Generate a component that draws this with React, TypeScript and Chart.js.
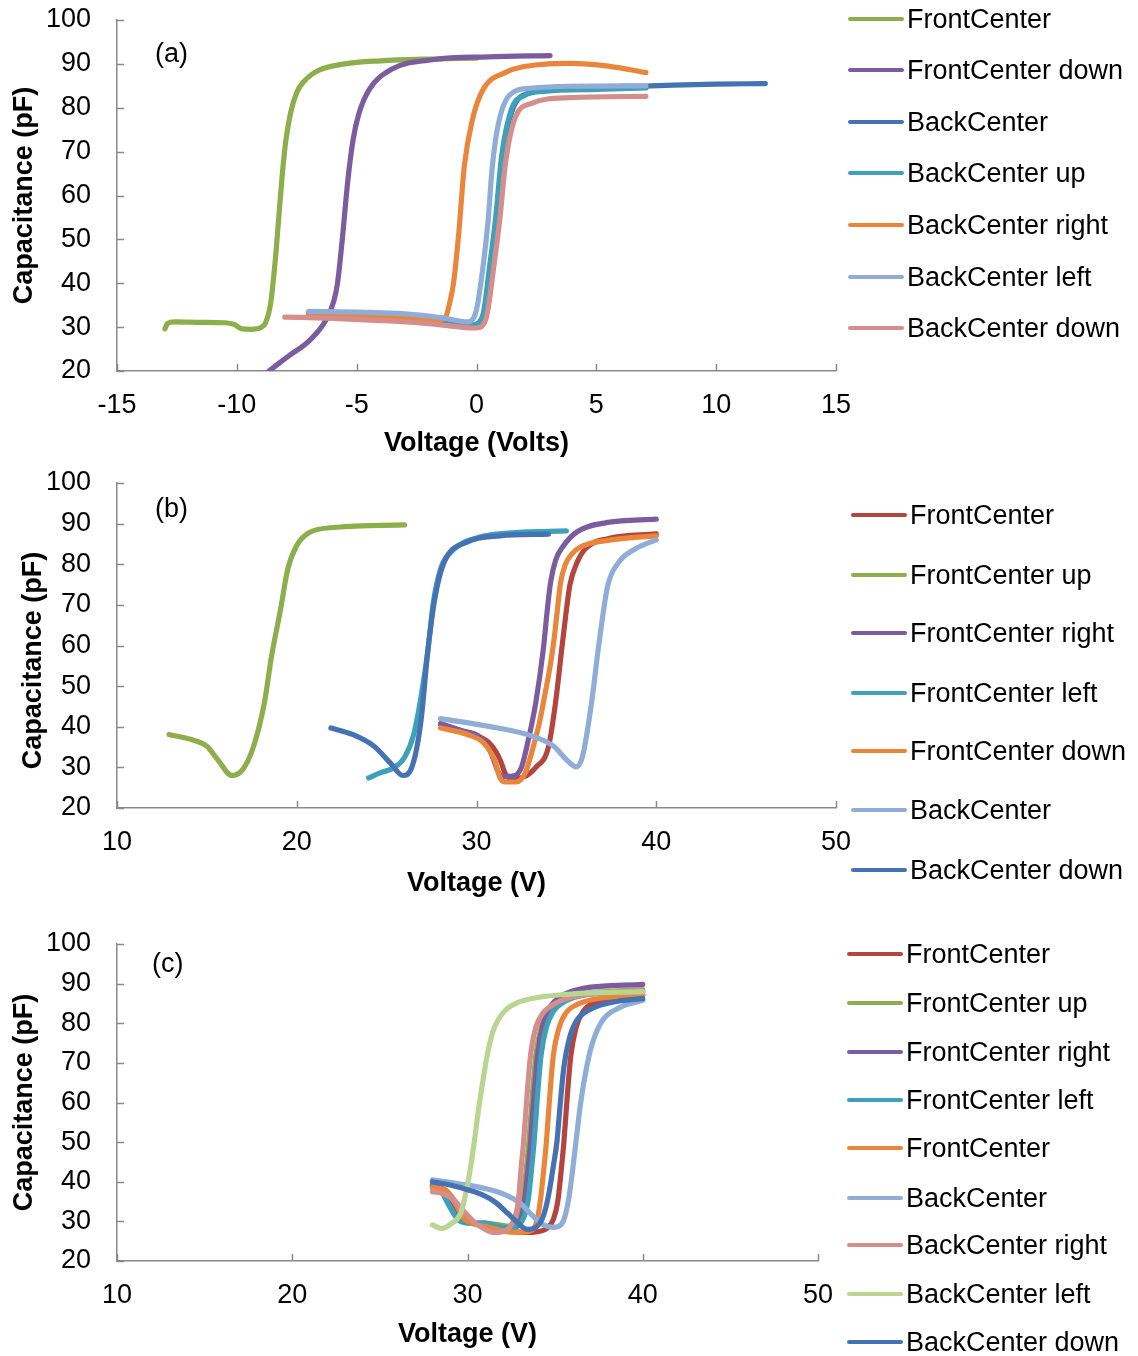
import React, { useEffect, useRef } from 'react';
import { Chart, registerables } from 'chart.js';

Chart.register(...registerables);

type Pt = [number, number];

const FONT = '"Liberation Sans", Arial, Helvetica, sans-serif';
const AXIS_COLOR = '#8a8a8a';

const COL_RED = '#B3453F';
const COL_GREEN = '#8CAF4B';
const COL_PURPLE = '#7A5C9F';
const COL_TEAL = '#3FA0BA';
const COL_ORANGE = '#EA863B';
const COL_LIGHTBLUE = '#8FADD7';
const COL_PINK = '#D48E8C';
const COL_LIGHTGREEN = '#BAD492';
const COL_BLUE = '#4472B3';

const Y_TICKS = [20, 30, 40, 50, 60, 70, 80, 90, 100];

// ---------- Panel (a) ----------
const A_X_TICKS = [-15, -10, -5, 0, 5, 10, 15];
const A_NAMES = ['FrontCenter', 'FrontCenter down', 'BackCenter', 'BackCenter up', 'BackCenter right', 'BackCenter left', 'BackCenter down'];
const A_COLORS = [COL_GREEN, COL_PURPLE, COL_BLUE, COL_TEAL, COL_ORANGE, COL_LIGHTBLUE, COL_PINK];
const A_FRONT_CENTER: Pt[] = [[-13.0, 29.6], [-12.9, 30.8], [-12.6, 31.2], [-11.5, 31.1], [-10.5, 31.0], [-10.1, 30.6], [-9.8, 29.6], [-9.4, 29.5], [-9.0, 29.9], [-8.8, 31], [-8.6, 35], [-8.4, 45], [-8.25, 55], [-8.1, 65], [-7.95, 72.7], [-7.75, 79], [-7.5, 83.5], [-7.2, 86], [-6.6, 88.5], [-5.5, 90], [-4, 90.7], [-2, 91.1], [0, 91.3]];
const A_FRONT_CENTER_DOWN: Pt[] = [[-8.66, 20], [-7.87, 23.3], [-6.96, 27], [-6.28, 31.6], [-5.95, 36], [-5.8, 40], [-5.6, 50], [-5.38, 62.8], [-5.15, 72.7], [-4.9, 78.8], [-4.47, 84.2], [-3.57, 88.7], [-1.76, 91], [0.5, 91.6], [3.07, 91.9]];
const A_BACK_CENTER: Pt[] = [[-7, 33], [-5, 32.8], [-3, 32.3], [-1.5, 31.6], [-0.5, 30.8], [0.05, 30.3], [0.3, 33], [0.55, 42], [0.84, 55], [1.1, 70], [1.5, 79.5], [2.1, 83.2], [3.9, 84.5], [7.3, 85], [10, 85.4], [12.05, 85.5]];
const A_BACK_CENTER_UP: Pt[] = [[-7, 33.2], [-5, 33], [-3, 32.5], [-1.5, 31.8], [-0.7, 31.1], [-0.2, 30.5], [0.25, 32.5], [0.55, 44], [0.8, 55], [1.05, 69], [1.45, 79.5], [2, 82.8], [2.9, 83.8], [5, 84.2], [7.07, 84.5]];
const A_BACK_CENTER_RIGHT: Pt[] = [[-7, 32.8], [-5, 32.6], [-3, 32.2], [-1.6, 31.7], [-1.3, 32.2], [-1.1, 36], [-0.96, 40], [-0.74, 51.4], [-0.51, 66.6], [-0.17, 77.3], [0.28, 84.2], [1.19, 88], [2.77, 89.9], [3.9, 90.1], [5.49, 89.5], [7.07, 88]];
const A_BACK_CENTER_LEFT: Pt[] = [[-7, 33.6], [-5, 33.4], [-3, 33.0], [-1.5, 32.2], [-0.36, 31.2], [0.0, 34], [0.3, 45], [0.48, 54], [0.65, 66], [0.9, 76], [1.4, 83], [2.32, 84.5], [3.9, 84.9], [7.07, 85]];
const A_BACK_CENTER_DOWN: Pt[] = [[-8, 32.3], [-6, 32.0], [-4, 31.5], [-2, 30.8], [-0.8, 30.1], [0.0, 29.8], [0.4, 32], [0.75, 45], [0.98, 55], [1.2, 67], [1.6, 77.5], [2.3, 81], [3.9, 82.3], [7.07, 82.6]];

// ---------- Panel (b) ----------
const BC_X_TICKS = [10, 20, 30, 40, 50];
const B_NAMES = ['FrontCenter', 'FrontCenter up', 'FrontCenter right', 'FrontCenter left', 'FrontCenter down', 'BackCenter', 'BackCenter down'];
const B_COLORS = [COL_RED, COL_GREEN, COL_PURPLE, COL_TEAL, COL_ORANGE, COL_LIGHTBLUE, COL_BLUE];
const B_FRONT_CENTER: Pt[] = [[28.0, 40.6], [29.2, 38.9], [30.1, 37.7], [30.8, 35.6], [31.3, 32], [31.6, 28.5], [31.9, 27.3], [32.6, 27.6], [33.3, 30], [34.0, 35], [34.4, 46], [34.74, 59], [34.98, 68], [35.2, 75], [35.6, 80.5], [36.1, 84], [37.3, 86.3], [40.0, 87.5]];
const B_FRONT_CENTER_UP: Pt[] = [[12.9, 38.1], [14.1, 36.9], [15.0, 35.2], [15.6, 31.9], [16.4, 28], [17.0, 29.5], [17.6, 35.2], [18.2, 45.9], [18.6, 57.4], [19.1, 68.9], [19.5, 78.8], [20.0, 84.6], [20.7, 87.8], [22.2, 89.1], [26.0, 89.7]];
const B_FRONT_CENTER_RIGHT: Pt[] = [[28.0, 40.8], [29.2, 39], [30.1, 37.7], [30.8, 33.6], [31.2, 29], [31.5, 27.7], [32.1, 27.9], [32.5, 30], [32.8, 35.1], [33.3, 46], [33.72, 59.2], [33.92, 68], [34.12, 75.5], [34.4, 81], [34.8, 84.3], [35.6, 88], [37.3, 90.3], [40.0, 91.1]];
const B_FRONT_CENTER_LEFT: Pt[] = [[24.0, 27.4], [24.6, 28.6], [25.4, 29.9], [26.0, 32.5], [26.5, 38], [26.9, 47], [27.3, 59], [27.6, 70.6], [28.0, 78.8], [28.7, 83.5], [30.1, 86.6], [32.2, 87.8], [35.0, 88.2]];
const B_FRONT_CENTER_DOWN: Pt[] = [[28.0, 39.7], [29.5, 38.1], [30.4, 36.0], [31.0, 31.9], [31.3, 27.5], [31.6, 26.4], [32.2, 26.4], [32.7, 28.5], [33.16, 35.1], [33.5, 41], [33.85, 49], [34.1, 55], [34.3, 61], [34.48, 68], [34.68, 75.5], [34.95, 80], [35.3, 82.5], [35.8, 84.3], [37.5, 86], [40.0, 87]];
const B_BACK_CENTER: Pt[] = [[28.0, 42], [30.7, 40.1], [33.1, 37.7], [34.3, 35.2], [35.0, 31.9], [35.55, 30.1], [35.9, 32.7], [36.4, 45.9], [36.8, 60], [37.3, 74.7], [37.9, 80.4], [38.8, 83.7], [40.0, 86]];
const B_BACK_CENTER_DOWN: Pt[] = [[21.9, 39.7], [23.1, 38.1], [24.3, 35.2], [25.2, 31.1], [25.9, 28], [26.4, 30], [26.9, 41], [27.3, 59], [27.7, 72], [28.2, 80.5], [29.5, 85.5], [31.3, 87], [34.0, 87.4]];

// ---------- Panel (c) ----------
const C_NAMES = ['FrontCenter', 'FrontCenter up', 'FrontCenter right', 'FrontCenter left', 'FrontCenter', 'BackCenter', 'BackCenter right', 'BackCenter left', 'BackCenter down'];
const C_COLORS = [COL_RED, COL_GREEN, COL_PURPLE, COL_TEAL, COL_ORANGE, COL_LIGHTBLUE, COL_PINK, COL_LIGHTGREEN, COL_BLUE];
const C_FRONT_CENTER: Pt[] = [[28, 39], [28.6, 38], [29.2, 35], [29.7, 31], [30.3, 29.5], [31, 29.2], [31.8, 28.3], [32.5, 27.5], [33.3, 27.2], [34, 27.4], [34.6, 28.5], [34.9, 30.5], [35.15, 35], [35.35, 43], [35.5, 50], [35.7, 62], [35.9, 72], [36.2, 79], [36.6, 83], [37.3, 85.3], [38.5, 86.5], [40, 87.1]];
const C_FRONT_CENTER_UP: Pt[] = [[28, 38.5], [28.7, 38], [29.3, 35], [29.8, 31], [30.3, 29.8], [31, 29.5], [31.7, 29.2], [32.4, 28.8], [32.9, 30], [33.15, 35], [33.35, 43], [33.5, 50], [33.7, 62], [33.9, 72], [34.2, 79], [34.6, 83], [35.3, 85.8], [36.5, 87.3], [40, 88.5]];
const C_FRONT_CENTER_RIGHT: Pt[] = [[28, 39.2], [28.6, 38.2], [29.2, 34.5], [29.7, 30.5], [30.2, 29.5], [31, 29.3], [31.8, 28.5], [32.5, 28.2], [33, 30], [33.25, 35], [33.45, 43], [33.6, 50], [33.8, 62], [34, 72], [34.3, 79.5], [34.7, 84], [35.4, 87], [36.6, 88.8], [40, 89.8]];
const C_FRONT_CENTER_LEFT: Pt[] = [[28, 38.8], [28.5, 37.5], [29, 33.5], [29.5, 30.3], [30.2, 29.5], [31, 29.6], [31.7, 28.8], [32.4, 28.3], [33.1, 30], [33.45, 35], [33.65, 43], [33.8, 50], [34, 62], [34.2, 72], [34.5, 79], [34.9, 83], [35.6, 85.6], [36.8, 87.2], [40, 88]];
const C_FRONT_CENTER_2: Pt[] = [[28, 38.5], [28.7, 38], [29.3, 34.5], [29.8, 30.8], [30.4, 29.3], [31.2, 28.6], [32, 27.6], [32.8, 27.2], [33.6, 27.6], [33.95, 30], [34.15, 35], [34.35, 43], [34.5, 50], [34.7, 62], [34.9, 72], [35.2, 78.5], [35.6, 82.5], [36.4, 85], [37.6, 86.3], [40, 87.2]];
const C_BACK_CENTER: Pt[] = [[28, 40.5], [29.5, 39.5], [31, 38.3], [32, 37], [33, 34.6], [33.7, 31.5], [34.3, 29.2], [34.9, 28.5], [35.4, 29.5], [35.75, 35], [36, 43], [36.2, 50.5], [36.4, 58], [36.6, 64], [37, 73], [37.6, 80], [38.6, 83.8], [40, 85.8]];
const C_BACK_CENTER_RIGHT: Pt[] = [[28, 37.5], [28.6, 37], [29.2, 35.5], [29.8, 32.5], [30.4, 29.8], [31, 28], [31.5, 27.2], [32, 27.4], [32.4, 28.5], [32.7, 31], [32.9, 35], [33.05, 43], [33.2, 50], [33.4, 62], [33.6, 72], [33.9, 79], [34.3, 82.5], [35, 85], [36.2, 86.8], [40, 88.3]];
const C_BACK_CENTER_LEFT: Pt[] = [[28, 29.1], [28.5, 28.2], [29.1, 29.5], [29.6, 32], [29.9, 37], [30.15, 43], [30.4, 50.5], [30.65, 58.9], [30.9, 66], [31.15, 72.5], [31.5, 78.5], [32.1, 83], [32.9, 85.3], [34, 86.5], [36, 87.4], [40, 88]];
const C_BACK_CENTER_DOWN: Pt[] = [[28, 40], [29, 39.2], [30, 38], [30.8, 36.8], [31.6, 34.8], [32.3, 32], [32.9, 29.5], [33.4, 28], [33.9, 28.5], [34.3, 31], [34.6, 36], [34.9, 44], [35.1, 50], [35.3, 60], [35.5, 69], [35.8, 76], [36.2, 80.5], [37, 83.5], [38.5, 85.5], [40, 86.2]];

interface PanelCfg {
  label: string;
  top: number;
  height: number;
  plotTop: number;
  plotBottom: number;
  plotRight: number;
  xMin: number;
  xMax: number;
  xTicks: number[];
  xTitle: string;
  xTitlePad: number;
  yTitle: string;
  yTitlePad: number;
  names: string[];
  colors: string[];
  data: Pt[][];
  legendX: number;
  legendY: number[];
  labelLeft: number;
  labelTop: number;
}

const PANELS: PanelCfg[] = [
  {
    label: '(a)', top: 0, height: 465, plotTop: 20, plotBottom: 371, plotRight: 836,
    xMin: -15, xMax: 15, xTicks: A_X_TICKS, xTitle: 'Voltage (Volts)', xTitlePad: 5, yTitle: 'Capacitance (pF)', yTitlePad: 8,
    names: A_NAMES, colors: A_COLORS,
    data: [A_FRONT_CENTER, A_FRONT_CENTER_DOWN, A_BACK_CENTER, A_BACK_CENTER_UP, A_BACK_CENTER_RIGHT, A_BACK_CENTER_LEFT, A_BACK_CENTER_DOWN],
    legendX: 848, legendY: [19, 70, 122, 173, 225, 277, 328], labelLeft: 155, labelTop: 37,
  },
  {
    label: '(b)', top: 465, height: 445, plotTop: 483, plotBottom: 808, plotRight: 836,
    xMin: 10, xMax: 50, xTicks: BC_X_TICKS, xTitle: 'Voltage (V)', xTitlePad: 10, yTitle: 'Capacitance (pF)\u00A0\u00A0\u00A0\u00A0', yTitlePad: 17,
    names: B_NAMES, colors: B_COLORS,
    data: [B_FRONT_CENTER, B_FRONT_CENTER_UP, B_FRONT_CENTER_RIGHT, B_FRONT_CENTER_LEFT, B_FRONT_CENTER_DOWN, B_BACK_CENTER, B_BACK_CENTER_DOWN],
    legendX: 851, legendY: [515, 575, 633, 693, 751, 810, 870], labelLeft: 155, labelTop: 492,
  },
  {
    label: '(c)', top: 910, height: 446, plotTop: 944, plotBottom: 1261, plotRight: 818,
    xMin: 10, xMax: 50, xTicks: BC_X_TICKS, xTitle: 'Voltage (V)', xTitlePad: 5, yTitle: 'Capacitance (pF)', yTitlePad: 8,
    names: C_NAMES, colors: C_COLORS,
    data: [C_FRONT_CENTER, C_FRONT_CENTER_UP, C_FRONT_CENTER_RIGHT, C_FRONT_CENTER_LEFT, C_FRONT_CENTER_2, C_BACK_CENTER, C_BACK_CENTER_RIGHT, C_BACK_CENTER_LEFT, C_BACK_CENTER_DOWN],
    legendX: 847, legendY: [954, 1003, 1052, 1100, 1148, 1198, 1245, 1294, 1342], labelLeft: 152, labelTop: 947,
  },
];

const innerTicks = {
  id: 'innerTicks',
  beforeDatasetsDraw(chart: any) {
    const { ctx, chartArea, scales } = chart;
    const x = scales.x;
    const y = scales.y;
    ctx.save();
    ctx.strokeStyle = AXIS_COLOR;
    ctx.lineWidth = 1.5;
    x.ticks.forEach((t: any) => {
      const px = Math.round(x.getPixelForValue(t.value)) + 0.5;
      ctx.beginPath();
      ctx.moveTo(px, chartArea.bottom);
      ctx.lineTo(px, chartArea.bottom - 7);
      ctx.stroke();
    });
    y.ticks.forEach((t: any) => {
      const py = Math.round(y.getPixelForValue(t.value)) + 0.5;
      ctx.beginPath();
      ctx.moveTo(chartArea.left, py);
      ctx.lineTo(chartArea.left + 7, py);
      ctx.stroke();
    });
    ctx.restore();
  },
};

function Panel({ cfg }: { cfg: PanelCfg }) {
  const ref = useRef<HTMLCanvasElement>(null);
  useEffect(() => {
    const n = cfg.data.length;
    const chart = new Chart(ref.current as HTMLCanvasElement, {
      type: 'scatter',
      data: {
        datasets: cfg.data.map((pts, i) => ({
          label: cfg.names[i],
          data: pts.map(([x, y]) => ({ x, y })),
          borderColor: cfg.colors[i],
          backgroundColor: cfg.colors[i],
          showLine: true,
          pointRadius: 0,
          pointHoverRadius: 0,
          borderWidth: 5.2,
          borderCapStyle: 'round',
          borderJoinStyle: 'round',
          cubicInterpolationMode: 'monotone',
          order: n - i,
        })) as any,
      },
      options: {
        responsive: false,
        animation: false,
        events: [],
        layout: { padding: { top: cfg.plotTop - cfg.top, right: 1138 - cfg.plotRight, left: 0, bottom: 0 } },
        plugins: { legend: { display: false }, tooltip: { enabled: false } },
        scales: {
          x: {
            type: 'linear',
            min: cfg.xMin,
            max: cfg.xMax,
            afterBuildTicks: (s: any) => { s.ticks = cfg.xTicks.map((v) => ({ value: v })); },
            afterFit: (s: any) => {
              s.height = cfg.top + cfg.height - cfg.plotBottom;
              s.paddingLeft = 0;
              s.paddingRight = 0;
            },
            border: { display: true, color: AXIS_COLOR, width: 1.5 },
            grid: { display: true, drawOnChartArea: false, drawTicks: false },
            ticks: { color: '#000', font: { family: FONT, size: 27 }, padding: 18, maxRotation: 0 },
            title: { display: true, text: cfg.xTitle, color: '#000', font: { family: FONT, size: 27, weight: 'bold' }, padding: { top: 0, bottom: cfg.xTitlePad } },
          },
          y: {
            type: 'linear',
            min: 20,
            max: 100,
            afterBuildTicks: (s: any) => { s.ticks = Y_TICKS.map((v) => ({ value: v })); },
            afterFit: (s: any) => {
              s.width = 117;
              s.paddingTop = 0;
              s.paddingBottom = 0;
            },
            border: { display: true, color: AXIS_COLOR, width: 1.5 },
            grid: { display: true, drawOnChartArea: false, drawTicks: false },
            ticks: { color: '#000', font: { family: FONT, size: 27 }, padding: 26 },
            title: { display: true, text: cfg.yTitle, color: '#000', font: { family: FONT, size: 27, weight: 'bold' }, padding: { top: cfg.yTitlePad, bottom: 0 } },
          },
        },
      } as any,
      plugins: [innerTicks],
    });
    return () => chart.destroy();
  }, [cfg]);

  return (
    <>
      <canvas
        ref={ref}
        width={1138}
        height={cfg.height}
        style={{ position: 'absolute', left: 0, top: cfg.top, width: 1138, height: cfg.height, display: 'block' }}
      />
      <div style={{ position: 'absolute', left: cfg.labelLeft, top: cfg.labelTop, font: `27px ${FONT}`, lineHeight: '32px', color: '#000' }}>
        {cfg.label}
      </div>
      {cfg.names.map((name, i) => (
        <div
          key={i}
          style={{ position: 'absolute', left: cfg.legendX, top: cfg.legendY[i] - 16, height: 32, display: 'flex', alignItems: 'center', whiteSpace: 'nowrap' }}
        >
          <div style={{ width: 56, height: 4.5, borderRadius: 2.25, background: cfg.colors[i] }} />
          <span style={{ marginLeft: 3, font: `27px ${FONT}`, lineHeight: '32px', color: '#000' }}>{name}</span>
        </div>
      ))}
    </>
  );
}

export default function App() {
  return (
    <div style={{ position: 'absolute', left: 0, top: 0, width: 1138, height: 1356, background: '#fff', overflow: 'hidden' }}>
      {PANELS.map((p) => (
        <Panel key={p.label} cfg={p} />
      ))}
    </div>
  );
}
